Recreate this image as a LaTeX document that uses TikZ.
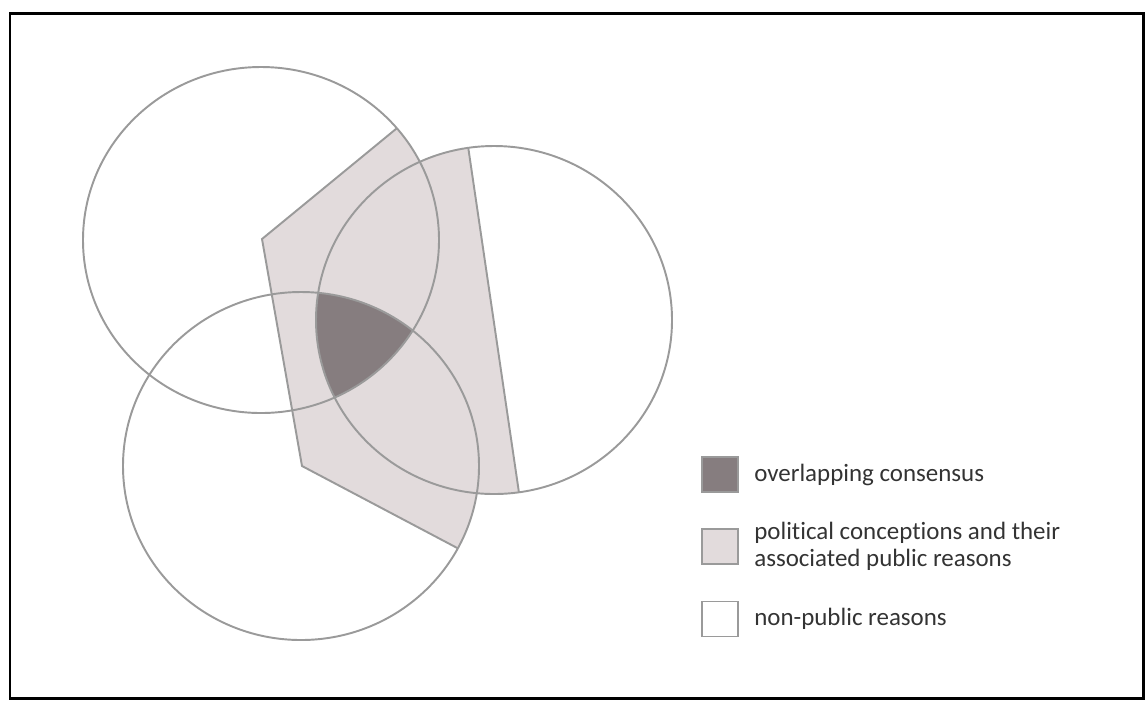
\documentclass[tikz,border=0pt]{standalone}
\usepackage{fontspec}
\setmainfont{Carlito}[Ligatures=NoCommon]
\usetikzlibrary{positioning}
\definecolor{ringgray}{HTML}{9A9A9A}
\definecolor{publicpink}{HTML}{E2DBDC}
\definecolor{consensus}{HTML}{867D7F}
\definecolor{legendtext}{HTML}{333333}
\tikzset{
  ring/.style={draw=ringgray,line width=1.1pt},
  keybox/.style={draw=ringgray,line width=1.1pt,minimum width=0.72cm,minimum height=0.70cm,inner sep=0pt},
  keytext/.style={anchor=west,text=legendtext,font=\fontsize{14.2}{15.4}\selectfont,align=left,inner sep=0pt}
}

\begin{document}
\begin{tikzpicture}[x=0.02cm,y=-0.02cm]
\useasboundingbox (0,0) rectangle (1145,701);
\draw[black,line width=1.7pt] (10,13) rectangle (1143,698);

% public reasons, only where a doctrine reaches
\begin{scope}
\clip (261,240) ellipse [x radius=178,y radius=173]
      (494,320) ellipse [x radius=178,y radius=174]
      (301,466) ellipse [x radius=178,y radius=174];
\fill[publicpink] (262,239) -- (458,78) -- (533,588) -- (302,466) -- cycle;
\draw[ring] (262,239) -- (458,78) -- (533,588) -- (302,466) -- cycle;
\end{scope}

% overlapping consensus
\begin{scope}
\clip (261,240) ellipse [x radius=178,y radius=173];
\clip (494,320) ellipse [x radius=178,y radius=174];
\fill[consensus] (301,466) ellipse [x radius=178,y radius=174];
\end{scope}

% the three doctrines
\draw[ring] (261,240) ellipse [x radius=178,y radius=173];
\draw[ring] (494,320) ellipse [x radius=178,y radius=174];
\draw[ring] (301,466) ellipse [x radius=178,y radius=174];

% legend
\node[keybox,fill=consensus] (keyconsensus) at (720,474.5) {};
\node[keybox,fill=publicpink] (keypublic) at (720,546.5) {};
\node[keybox,fill=white] (keynonpublic) at (720,619) {};
\node[keytext,right=0.30cm of keyconsensus] (txtconsensus) {overlapping consensus};
\node[keytext,right=0.30cm of keypublic] (txtpublic) {political conceptions and their\\associated public reasons};
\node[keytext,right=0.30cm of keynonpublic] (txtnonpublic) {non-public reasons};
\end{tikzpicture}
\end{document}
